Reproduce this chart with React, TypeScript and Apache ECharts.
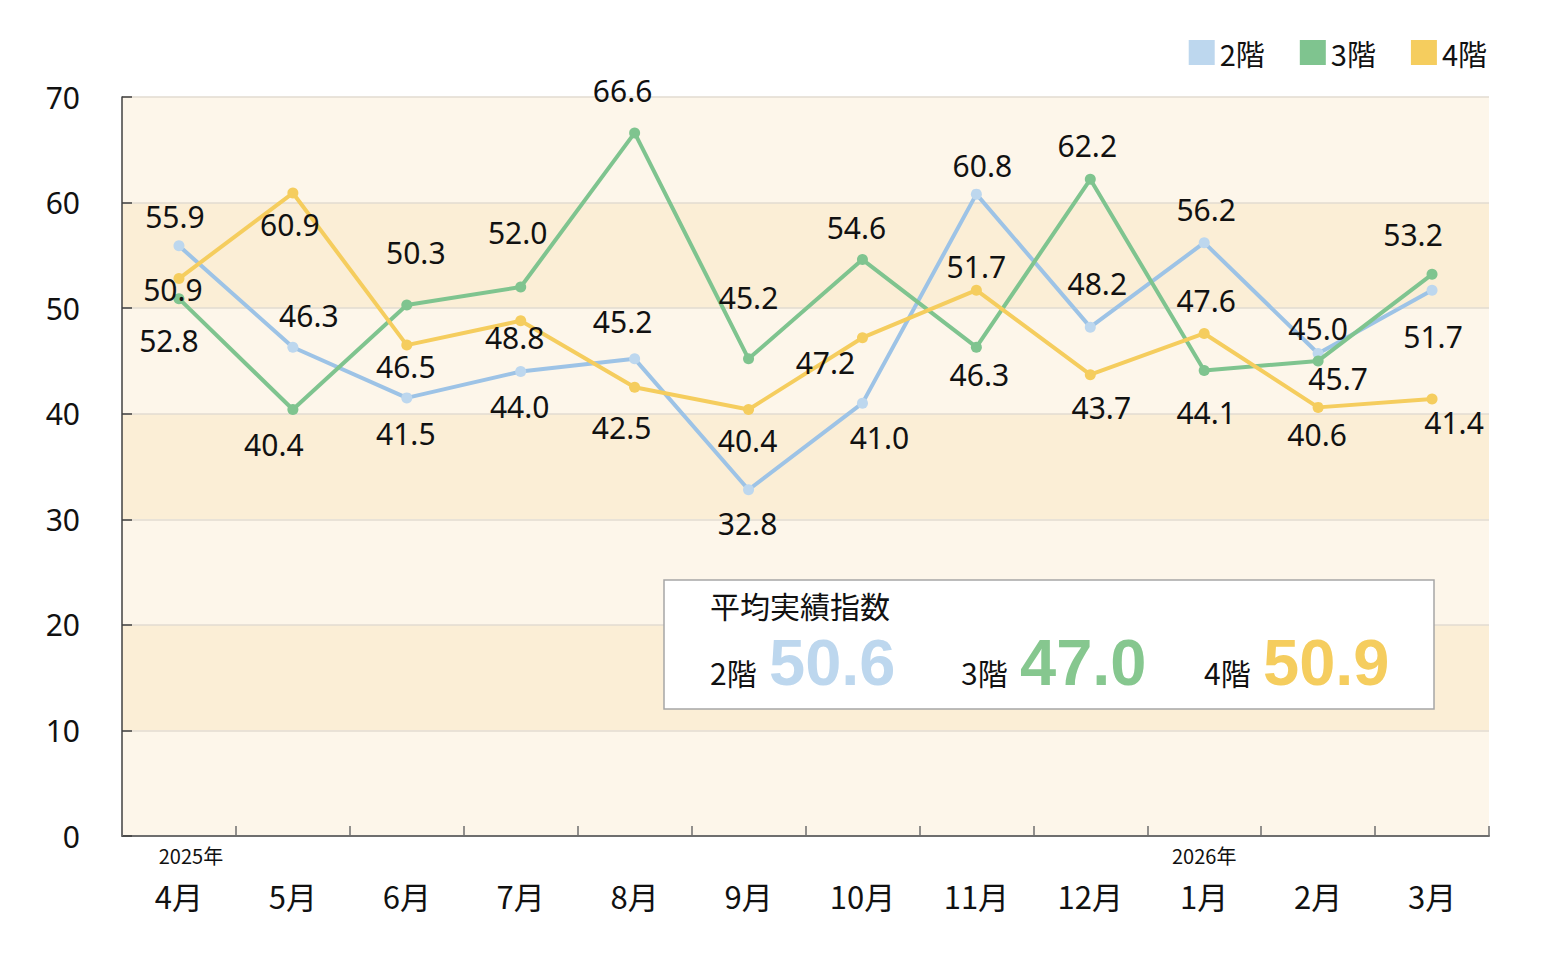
import { useRef, useEffect } from 'react'
import * as echarts from 'echarts'

const categories = ['4月', '5月', '6月', '7月', '8月', '9月', '10月', '11月', '12月', '1月', '2月', '3月']
const yearLabels = ['2025年', '', '', '', '', '', '', '', '', '2026年', '', '']
const seriesNames = ['2階', '3階', '4階']
const floor2 = [55.9, 46.3, 41.5, 44.0, 45.2, 32.8, 41.0, 60.8, 48.2, 56.2, 45.7, 51.7]
const floor3 = [50.9, 40.4, 50.3, 52.0, 66.6, 45.2, 54.6, 46.3, 62.2, 44.1, 45.0, 53.2]
const floor4 = [52.8, 60.9, 46.5, 48.8, 42.5, 40.4, 47.2, 51.7, 43.7, 47.6, 40.6, 41.4]
const averages = [50.6, 47.0, 50.9]
const avgTitle = '平均実績指数'

// label offsets (px, label centre relative to point) — layout only
const offsets2 = [[-4, -29], [16, -32], [-1, 36], [-1, 35], [-12, -37], [-1, 34], [17, 34], [6, -29], [7, -44], [2, -33], [20, 25], [1, 46]]
const offsets3 = [[-6, -9], [-19, 35], [9, -52], [-3, -55], [-12, -42], [0, -61], [-6, -32], [3, 27], [-3, -34], [2, 42], [0, -32], [-19, -40]]
const offsets4 = [[-10, 62], [-3, 31], [-1, 21], [-6, 17], [-13, 40], [-1, 31], [-37, 25], [0, -24], [11, 33], [2, -33], [-1, 27], [22, 24]]

const lineColors = ['#9dc3e6', '#7fc48f', '#f5cd5e']
const markerColors = ['#bdd7ee', '#7fc48f', '#f5cd5e']
const bigColors = ['#bdd7ee', '#86c78f', '#f5cd5e']

const numFont = '"Noto Sans", sans-serif'
const jpFont = '"Noto Sans CJK JP", sans-serif'

function makeSeries(idx: number, values: number[], offs: number[][]) {
  return {
    name: seriesNames[idx],
    type: 'line' as const,
    data: values.map((v, i) => ({ value: v, label: { offset: offs[i] } })),
    symbol: 'circle',
    symbolSize: 11,
    z: 2 + idx,
    lineStyle: { color: lineColors[idx], width: 4 },
    itemStyle: { color: markerColors[idx] },
    emphasis: { disabled: true },
    label: {
      show: true,
      position: 'inside',
      fontSize: 30,
      fontFamily: numFont,
      color: '#111',
      textBorderWidth: 0,
      formatter: (p: any) => Number(p.value).toFixed(1),
    },
  }
}

export default function App() {
  const ref = useRef<HTMLDivElement>(null)

  useEffect(() => {
    document.body.style.margin = '0'
    if (!ref.current) return
    const chart = echarts.init(ref.current, undefined, { renderer: 'svg' })

    const avgX = [710, 961, 1204]
    const avgGraphics: any[] = []
    averages.forEach((v, i) => {
      avgGraphics.push({
        type: 'text',
        x: avgX[i],
        y: 672,
        z: 101,
        style: { text: seriesNames[i], font: `30px ${jpFont}`, fill: '#111', verticalAlign: 'middle' },
      })
      avgGraphics.push({
        type: 'text',
        x: avgX[i] + 59,
        y: 662,
        z: 101,
        style: {
          text: v.toFixed(1),
          font: `bold 65px "Liberation Sans", Arial, sans-serif`,
          fill: bigColors[i],
          verticalAlign: 'middle',
        },
      })
    })

    chart.setOption({
      animation: false,
      backgroundColor: '#ffffff',
      grid: { left: 122, right: 63, top: 97, bottom: 124 },
      legend: {
        data: seriesNames.map((n, i) => ({ name: n, itemStyle: { color: markerColors[i] } })),
        icon: 'rect',
        itemWidth: 26,
        itemHeight: 25,
        itemGap: 35,
        right: 65,
        top: 38,
        padding: 0,
        selectedMode: false,
        textStyle: { fontSize: 29, fontFamily: jpFont, color: '#111' },
      },
      xAxis: {
        type: 'category',
        data: categories,
        boundaryGap: true,
        axisLine: { lineStyle: { color: '#6e6e6e', width: 2 } },
        axisTick: { show: true, inside: true, length: 10, lineStyle: { color: '#6e6e6e', width: 1.5 } },
        axisLabel: {
          interval: 0,
          margin: 4,
          color: '#111',
          formatter: (value: string, index: number) => {
            const y = yearLabels[index]
            const key = index === 0 ? 'ya' : 'y'
            return `{${key}|${y || ' '}}\n{m|${value}}`
          },
          rich: {
            y: { fontSize: 20, lineHeight: 30, fontFamily: jpFont, color: '#111' },
            ya: { fontSize: 20, lineHeight: 30, fontFamily: jpFont, color: '#111', padding: [0, 0, 0, 24] },
            m: { fontSize: 31, lineHeight: 50, fontFamily: jpFont, color: '#111' },
          },
        },
      },
      yAxis: {
        type: 'value',
        min: 0,
        max: 70,
        interval: 10,
        axisLine: { show: true, lineStyle: { color: '#404040', width: 1.5 } },
        axisTick: { show: true, inside: true, length: 10, lineStyle: { color: '#404040', width: 1.5 } },
        axisLabel: { margin: 42, fontSize: 30, fontFamily: numFont, color: '#111' },
        splitLine: { show: true, lineStyle: { color: '#e2dbd0', width: 1.5 } },
        splitArea: { show: true, areaStyle: { color: ['#fdf6ea', '#fbeed6'] } },
      },
      series: [
        makeSeries(0, floor2, offsets2),
        makeSeries(1, floor3, offsets3),
        makeSeries(2, floor4, offsets4),
      ],
      graphic: [
        {
          type: 'rect',
          z: 100,
          shape: { x: 664, y: 580, width: 770, height: 129 },
          style: { fill: '#ffffff', stroke: '#a6a6a6', lineWidth: 1.5 },
        },
        {
          type: 'text',
          x: 710,
          y: 605,
          z: 101,
          style: { text: avgTitle, font: `30px ${jpFont}`, fill: '#111', verticalAlign: 'middle' },
        },
        ...avgGraphics,
      ],
    })

    return () => chart.dispose()
  }, [])

  return <div ref={ref} style={{ width: 1552, height: 960 }} />
}
